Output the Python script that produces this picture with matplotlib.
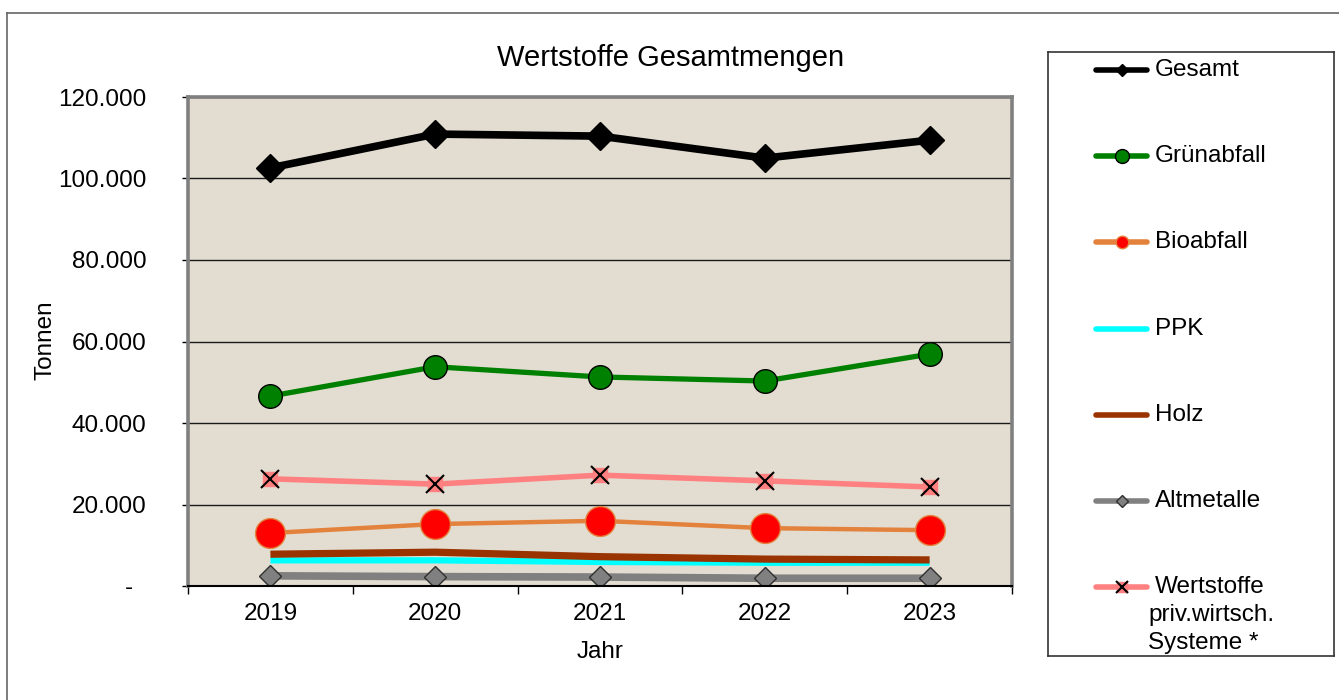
import matplotlib.pyplot as plt
from matplotlib.ticker import FuncFormatter, FixedLocator
from matplotlib.lines import Line2D

plt.rcParams['font.family'] = ['Liberation Sans', 'DejaVu Sans']

years = ["2019", "2020", "2021", "2022", "2023"]

gesamt = [102600, 110900, 110400, 105000, 109400]
gruenabfall = [46600, 53800, 51300, 50300, 56900]
bioabfall = [13000, 15200, 16000, 14200, 13700]
ppk = [6300, 6300, 5900, 5700, 5700]
holz = [7800, 8300, 7200, 6600, 6400]
altmetalle = [2500, 2300, 2200, 1900, 1900]
wertstoffe = [26300, 25000, 27200, 25800, 24300]

series_names = ["Gesamt", "Grünabfall", "Bioabfall", "PPK", "Holz", "Altmetalle",
                "Wertstoffe\npriv.wirtsch.\nSysteme *"]
series_values = [gesamt, gruenabfall, bioabfall, ppk, holz, altmetalle, wertstoffe]

orange = '#E3823C'
pink = '#FF8080'
styles = [
    dict(color='black', lw=5.5, marker='D', ms=14, mfc='black', mec='black'),
    dict(color='#008000', lw=3.8, marker='o', ms=17, mfc='#008000', mec='black', mew=1.0),
    dict(color=orange, lw=3.2, marker='o', ms=21.5, mfc='#FF0000', mec=orange, mew=1.0),
    dict(color='#00FFFF', lw=4.5),
    dict(color='#993300', lw=5.2),
    dict(color='#808080', lw=5.5, marker='D', ms=11, mfc='#808080', mec='#303030', mew=1.0),
    dict(color=pink, lw=4.0, marker='x', ms=13, mec='black', mew=1.5),
]
legend_marker_sizes = [6, 10, 9, None, None, 6.5, 9]

W, H = 1339, 700
fig = plt.figure(figsize=(W / 100, H / 100), dpi=100)

# outer chart border (only top and left visible)
fig.add_artist(Line2D([7 / W, 1], [1 - 13 / H, 1 - 13 / H], color='#666666', lw=1.2))
fig.add_artist(Line2D([7 / W, 7 / W], [0, 1 - 13 / H], color='#666666', lw=1.2))

ax = fig.add_axes([188 / W, 114 / H, 824 / W, 489 / H])
ax.set_facecolor('#E3DDD1')

x = list(range(len(years)))
for vals, st in zip(series_values, styles):
    if st.get('marker') == 'x':
        # excel-style x marker sits on a square filled in the line colour
        ax.plot(x, vals, solid_capstyle='butt', color=st['color'], lw=st['lw'],
                marker='s', ms=st['ms'] * 0.75, mfc=st['color'], mec=st['color'])
        ax.plot(x, vals, linestyle='none', marker='x', ms=st['ms'], mec='black', mew=st['mew'])
    else:
        ax.plot(x, vals, solid_capstyle='butt', **st)

ax.set_xlim(-0.5, len(years) - 0.5)
ax.set_ylim(0, 120000)
ax.set_yticks(range(0, 120001, 20000))


def de_fmt(v, pos):
    if v == 0:
        return '-  '
    return f"{int(v):,}".replace(',', '.')


ax.yaxis.set_major_formatter(FuncFormatter(de_fmt))
ax.set_xticks(x)
ax.set_xticklabels(years)
ax.xaxis.set_minor_locator(FixedLocator([i - 0.5 for i in range(len(years) + 1)]))
ax.tick_params(axis='x', which='major', length=0, pad=12, labelsize=17.5)
ax.tick_params(axis='x', which='minor', length=6, width=1, direction='out', color='black')
ax.tick_params(axis='y', length=4, width=1, direction='out', pad=26, labelsize=17.5)

ax.yaxis.grid(True, color='#1a1a1a', lw=1.0)
ax.set_axisbelow(True)
for side in ['top', 'right', 'left']:
    ax.spines[side].set_color('#808080')
    ax.spines[side].set_linewidth(2.6)
ax.spines['bottom'].set_color('black')
ax.spines['bottom'].set_linewidth(1.5)

fig.text(671 / W, 1 - 58 / H, 'Wertstoffe Gesamtmengen', ha='center', va='center', fontsize=21)
fig.text(46 / W, 1 - 340 / H, 'Tonnen', rotation=90, ha='center', va='center', fontsize=17.5)
fig.text(600 / W, 1 - 652 / H, 'Jahr', ha='center', va='center', fontsize=17.5)

# legend box
lax = fig.add_axes([1048 / W, 1 - 656 / H, 286 / W, 604 / H])
lax.set_xlim(1048, 1334)
lax.set_ylim(656, 52)
lax.set_xticks([])
lax.set_yticks([])
for s in lax.spines.values():
    s.set_color('#333333')
    s.set_linewidth(1.2)

row_y = 70
for name, st, lms in zip(series_names, styles, legend_marker_sizes):
    lax.plot([1096, 1147], [row_y, row_y], solid_capstyle='round', color=st['color'], lw=4.0)
    if 'marker' in st:
        mk = {k: v for k, v in st.items() if k not in ('color', 'lw')}
        mk['ms'] = lms
        if st['marker'] == 'x':
            lax.plot([1121.5], [row_y], linestyle='none', marker='s', ms=lms * 0.8,
                     mfc=st['color'], mec=st['color'])
        lax.plot([1121.5], [row_y], linestyle='none', **mk)
    lines = name.split('\n')
    lax.text(1155, row_y, lines[0], ha='left', va='center', fontsize=17.5)
    for j, extra in enumerate(lines[1:]):
        lax.text(1148, row_y + 28 * (j + 1), extra, ha='left', va='center', fontsize=17.5)
    row_y += 86.2

fig.savefig('out.png', dpi=100)
